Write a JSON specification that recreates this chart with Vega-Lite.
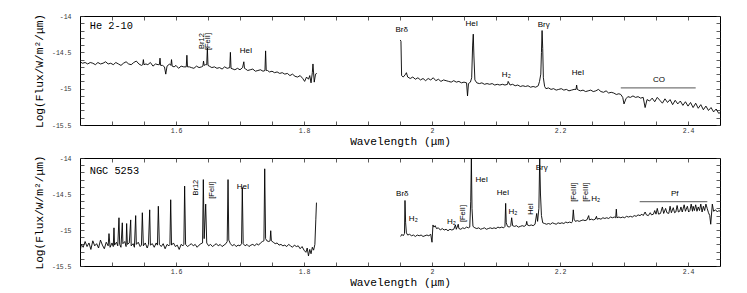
{
"$schema": "https://vega.github.io/schema/vega-lite/v6.json",
"padding": {"left": 32, "top": 12, "right": 20, "bottom": 0},
"spacing": 6,
"config": {"view": {"stroke": "black", "strokeWidth": 1}, "text": {"font": "Liberation Sans"}},
"datasets": {
"he": [
{"seg":1,"w":1.450,"f":-14.63},{"seg":1,"w":1.454,"f":-14.65},{"seg":1,"w":1.458,"f":-14.64},{"seg":1,"w":1.462,"f":-14.66},{"seg":1,"w":1.466,"f":-14.64},{"seg":1,"w":1.470,"f":-14.65},{"seg":1,"w":1.474,"f":-14.67},{"seg":1,"w":1.478,"f":-14.64},{"seg":1,"w":1.482,"f":-14.66},{"seg":1,"w":1.486,"f":-14.65},{"seg":1,"w":1.490,"f":-14.63},{"seg":1,"w":1.494,"f":-14.66},{"seg":1,"w":1.498,"f":-14.65},{"seg":1,"w":1.502,"f":-14.67},{"seg":1,"w":1.506,"f":-14.64},{"seg":1,"w":1.510,"f":-14.66},{"seg":1,"w":1.514,"f":-14.68},{"seg":1,"w":1.518,"f":-14.65},{"seg":1,"w":1.522,"f":-14.63},{"seg":1,"w":1.526,"f":-14.66},{"seg":1,"w":1.530,"f":-14.67},{"seg":1,"w":1.534,"f":-14.64},{"seg":1,"w":1.538,"f":-14.62},{"seg":1,"w":1.542,"f":-14.66},{"seg":1,"w":1.546,"f":-14.68},{"seg":1,"w":1.548,"f":-14.67},{"seg":1,"w":1.549,"f":-14.60},{"seg":1,"w":1.550,"f":-14.67},{"seg":1,"w":1.553,"f":-14.66},{"seg":1,"w":1.556,"f":-14.67},{"seg":1,"w":1.560,"f":-14.64},{"seg":1,"w":1.564,"f":-14.69},{"seg":1,"w":1.568,"f":-14.66},{"seg":1,"w":1.572,"f":-14.67},{"seg":1,"w":1.574,"f":-14.67},{"seg":1,"w":1.575,"f":-14.58},{"seg":1,"w":1.576,"f":-14.68},{"seg":1,"w":1.579,"f":-14.68},{"seg":1,"w":1.582,"f":-14.70},{"seg":1,"w":1.584,"f":-14.80},{"seg":1,"w":1.586,"f":-14.69},{"seg":1,"w":1.590,"f":-14.66},{"seg":1,"w":1.592,"f":-14.68},{"seg":1,"w":1.593,"f":-14.60},{"seg":1,"w":1.594,"f":-14.69},{"seg":1,"w":1.597,"f":-14.70},{"seg":1,"w":1.600,"f":-14.68},{"seg":1,"w":1.604,"f":-14.72},{"seg":1,"w":1.608,"f":-14.69},{"seg":1,"w":1.612,"f":-14.70},{"seg":1,"w":1.616,"f":-14.70},{"seg":1,"w":1.617,"f":-14.54},{"seg":1,"w":1.618,"f":-14.70},{"seg":1,"w":1.621,"f":-14.70},{"seg":1,"w":1.624,"f":-14.71},{"seg":1,"w":1.628,"f":-14.72},{"seg":1,"w":1.632,"f":-14.69},{"seg":1,"w":1.636,"f":-14.71},{"seg":1,"w":1.640,"f":-14.70},{"seg":1,"w":1.642,"f":-14.69},{"seg":1,"w":1.643,"f":-14.62},{"seg":1,"w":1.644,"f":-14.68},{"seg":1,"w":1.646,"f":-14.67},{"seg":1,"w":1.648,"f":-14.67},{"seg":1,"w":1.649,"f":-14.44},{"seg":1,"w":1.650,"f":-14.68},{"seg":1,"w":1.652,"f":-14.69},{"seg":1,"w":1.656,"f":-14.71},{"seg":1,"w":1.660,"f":-14.70},{"seg":1,"w":1.664,"f":-14.72},{"seg":1,"w":1.668,"f":-14.71},{"seg":1,"w":1.672,"f":-14.73},{"seg":1,"w":1.676,"f":-14.70},{"seg":1,"w":1.680,"f":-14.72},{"seg":1,"w":1.684,"f":-14.71},{"seg":1,"w":1.685,"f":-14.50},{"seg":1,"w":1.686,"f":-14.72},{"seg":1,"w":1.689,"f":-14.73},{"seg":1,"w":1.692,"f":-14.74},{"seg":1,"w":1.696,"f":-14.72},{"seg":1,"w":1.700,"f":-14.74},{"seg":1,"w":1.704,"f":-14.71},{"seg":1,"w":1.706,"f":-14.63},{"seg":1,"w":1.707,"f":-14.72},{"seg":1,"w":1.709,"f":-14.73},{"seg":1,"w":1.712,"f":-14.75},{"seg":1,"w":1.716,"f":-14.74},{"seg":1,"w":1.720,"f":-14.73},{"seg":1,"w":1.724,"f":-14.76},{"seg":1,"w":1.728,"f":-14.75},{"seg":1,"w":1.732,"f":-14.74},{"seg":1,"w":1.736,"f":-14.76},{"seg":1,"w":1.739,"f":-14.75},{"seg":1,"w":1.740,"f":-14.48},{"seg":1,"w":1.741,"f":-14.75},{"seg":1,"w":1.743,"f":-14.75},{"seg":1,"w":1.746,"f":-14.77},{"seg":1,"w":1.750,"f":-14.76},{"seg":1,"w":1.754,"f":-14.78},{"seg":1,"w":1.758,"f":-14.77},{"seg":1,"w":1.762,"f":-14.79},{"seg":1,"w":1.766,"f":-14.78},{"seg":1,"w":1.770,"f":-14.80},{"seg":1,"w":1.774,"f":-14.79},{"seg":1,"w":1.778,"f":-14.82},{"seg":1,"w":1.782,"f":-14.80},{"seg":1,"w":1.786,"f":-14.83},{"seg":1,"w":1.790,"f":-14.84},{"seg":1,"w":1.794,"f":-14.82},{"seg":1,"w":1.798,"f":-14.86},{"seg":1,"w":1.801,"f":-14.90},{"seg":1,"w":1.804,"f":-14.84},{"seg":1,"w":1.807,"f":-14.87},{"seg":1,"w":1.809,"f":-14.82},{"seg":1,"w":1.811,"f":-14.92},{"seg":1,"w":1.813,"f":-14.78},{"seg":1,"w":1.814,"f":-14.66},{"seg":1,"w":1.816,"f":-14.91},{"seg":1,"w":1.818,"f":-14.80},{"seg":1,"w":1.820,"f":-14.79},
{"seg":2,"w":1.9505,"f":-14.33},{"seg":2,"w":1.9515,"f":-14.35},{"seg":2,"w":1.9525,"f":-14.82},{"seg":2,"w":1.955,"f":-14.84},{"seg":2,"w":1.958,"f":-14.81},{"seg":2,"w":1.960,"f":-14.78},{"seg":2,"w":1.962,"f":-14.84},{"seg":2,"w":1.966,"f":-14.86},{"seg":2,"w":1.970,"f":-14.84},{"seg":2,"w":1.974,"f":-14.87},{"seg":2,"w":1.978,"f":-14.85},{"seg":2,"w":1.982,"f":-14.88},{"seg":2,"w":1.986,"f":-14.86},{"seg":2,"w":1.990,"f":-14.89},{"seg":2,"w":1.994,"f":-14.86},{"seg":2,"w":1.998,"f":-14.88},{"seg":2,"w":2.002,"f":-14.85},{"seg":2,"w":2.006,"f":-14.89},{"seg":2,"w":2.010,"f":-14.87},{"seg":2,"w":2.014,"f":-14.90},{"seg":2,"w":2.018,"f":-14.88},{"seg":2,"w":2.022,"f":-14.89},{"seg":2,"w":2.026,"f":-14.90},{"seg":2,"w":2.030,"f":-14.91},{"seg":2,"w":2.034,"f":-14.89},{"seg":2,"w":2.038,"f":-14.91},{"seg":2,"w":2.042,"f":-14.90},{"seg":2,"w":2.046,"f":-14.92},{"seg":2,"w":2.050,"f":-14.91},{"seg":2,"w":2.054,"f":-14.92},{"seg":2,"w":2.0555,"f":-15.10},{"seg":2,"w":2.057,"f":-14.93},{"seg":2,"w":2.060,"f":-14.91},{"seg":2,"w":2.062,"f":-14.85},{"seg":2,"w":2.0635,"f":-14.40},{"seg":2,"w":2.0645,"f":-14.25},{"seg":2,"w":2.0655,"f":-14.55},{"seg":2,"w":2.067,"f":-14.88},{"seg":2,"w":2.070,"f":-14.92},{"seg":2,"w":2.074,"f":-14.93},{"seg":2,"w":2.078,"f":-14.92},{"seg":2,"w":2.082,"f":-14.94},{"seg":2,"w":2.086,"f":-14.93},{"seg":2,"w":2.090,"f":-14.94},{"seg":2,"w":2.094,"f":-14.93},{"seg":2,"w":2.098,"f":-14.95},{"seg":2,"w":2.102,"f":-14.94},{"seg":2,"w":2.106,"f":-14.95},{"seg":2,"w":2.110,"f":-14.94},{"seg":2,"w":2.114,"f":-14.95},{"seg":2,"w":2.118,"f":-14.94},{"seg":2,"w":2.119,"f":-14.90},{"seg":2,"w":2.122,"f":-14.95},{"seg":2,"w":2.126,"f":-14.94},{"seg":2,"w":2.130,"f":-14.96},{"seg":2,"w":2.134,"f":-14.95},{"seg":2,"w":2.138,"f":-14.97},{"seg":2,"w":2.142,"f":-14.96},{"seg":2,"w":2.146,"f":-14.97},{"seg":2,"w":2.150,"f":-14.96},{"seg":2,"w":2.154,"f":-14.98},{"seg":2,"w":2.158,"f":-14.97},{"seg":2,"w":2.162,"f":-14.98},{"seg":2,"w":2.166,"f":-14.96},{"seg":2,"w":2.168,"f":-14.90},{"seg":2,"w":2.170,"f":-14.80},{"seg":2,"w":2.171,"f":-14.50},{"seg":2,"w":2.172,"f":-14.20},{"seg":2,"w":2.173,"f":-14.45},{"seg":2,"w":2.174,"f":-14.85},{"seg":2,"w":2.176,"f":-14.97},{"seg":2,"w":2.178,"f":-15.00},{"seg":2,"w":2.182,"f":-14.99},{"seg":2,"w":2.186,"f":-15.01},{"seg":2,"w":2.190,"f":-15.00},{"seg":2,"w":2.194,"f":-15.02},{"seg":2,"w":2.198,"f":-15.01},{"seg":2,"w":2.202,"f":-15.00},{"seg":2,"w":2.206,"f":-15.02},{"seg":2,"w":2.210,"f":-15.01},{"seg":2,"w":2.214,"f":-15.03},{"seg":2,"w":2.218,"f":-15.02},{"seg":2,"w":2.222,"f":-15.01},{"seg":2,"w":2.225,"f":-15.01},{"seg":2,"w":2.226,"f":-14.95},{"seg":2,"w":2.227,"f":-15.01},{"seg":2,"w":2.229,"f":-15.02},{"seg":2,"w":2.232,"f":-15.03},{"seg":2,"w":2.236,"f":-15.02},{"seg":2,"w":2.240,"f":-15.04},{"seg":2,"w":2.244,"f":-15.03},{"seg":2,"w":2.248,"f":-15.02},{"seg":2,"w":2.252,"f":-15.04},{"seg":2,"w":2.256,"f":-15.03},{"seg":2,"w":2.260,"f":-15.01},{"seg":2,"w":2.264,"f":-15.04},{"seg":2,"w":2.268,"f":-15.05},{"seg":2,"w":2.272,"f":-15.03},{"seg":2,"w":2.276,"f":-15.06},{"seg":2,"w":2.280,"f":-15.05},{"seg":2,"w":2.284,"f":-15.06},{"seg":2,"w":2.288,"f":-15.08},{"seg":2,"w":2.292,"f":-15.07},{"seg":2,"w":2.295,"f":-15.08},{"seg":2,"w":2.298,"f":-15.12},{"seg":2,"w":2.300,"f":-15.21},{"seg":2,"w":2.303,"f":-15.14},{"seg":2,"w":2.306,"f":-15.11},{"seg":2,"w":2.310,"f":-15.12},{"seg":2,"w":2.314,"f":-15.10},{"seg":2,"w":2.318,"f":-15.12},{"seg":2,"w":2.322,"f":-15.11},{"seg":2,"w":2.326,"f":-15.13},{"seg":2,"w":2.330,"f":-15.12},{"seg":2,"w":2.333,"f":-15.26},{"seg":2,"w":2.336,"f":-15.15},{"seg":2,"w":2.340,"f":-15.17},{"seg":2,"w":2.344,"f":-15.13},{"seg":2,"w":2.348,"f":-15.18},{"seg":2,"w":2.352,"f":-15.12},{"seg":2,"w":2.356,"f":-15.16},{"seg":2,"w":2.360,"f":-15.20},{"seg":2,"w":2.364,"f":-15.14},{"seg":2,"w":2.368,"f":-15.19},{"seg":2,"w":2.372,"f":-15.15},{"seg":2,"w":2.376,"f":-15.22},{"seg":2,"w":2.380,"f":-15.16},{"seg":2,"w":2.384,"f":-15.21},{"seg":2,"w":2.388,"f":-15.17},{"seg":2,"w":2.392,"f":-15.23},{"seg":2,"w":2.396,"f":-15.18},{"seg":2,"w":2.400,"f":-15.24},{"seg":2,"w":2.404,"f":-15.19},{"seg":2,"w":2.408,"f":-15.26},{"seg":2,"w":2.412,"f":-15.20},{"seg":2,"w":2.416,"f":-15.27},{"seg":2,"w":2.420,"f":-15.22},{"seg":2,"w":2.424,"f":-15.29},{"seg":2,"w":2.428,"f":-15.24},{"seg":2,"w":2.432,"f":-15.30},{"seg":2,"w":2.436,"f":-15.26},{"seg":2,"w":2.440,"f":-15.32},{"seg":2,"w":2.444,"f":-15.28},{"seg":2,"w":2.448,"f":-15.34},{"seg":2,"w":2.450,"f":-15.33}
],
"ngc": [
{"seg":1,"w":1.450,"f":-15.31},{"seg":1,"w":1.452,"f":-15.20},{"seg":1,"w":1.455,"f":-15.24},{"seg":1,"w":1.458,"f":-15.16},{"seg":1,"w":1.461,"f":-15.23},{"seg":1,"w":1.464,"f":-15.18},{"seg":1,"w":1.467,"f":-15.27},{"seg":1,"w":1.470,"f":-15.15},{"seg":1,"w":1.473,"f":-15.22},{"seg":1,"w":1.476,"f":-15.19},{"seg":1,"w":1.479,"f":-15.25},{"seg":1,"w":1.482,"f":-15.14},{"seg":1,"w":1.485,"f":-15.21},{"seg":1,"w":1.488,"f":-15.26},{"seg":1,"w":1.491,"f":-15.17},{"seg":1,"w":1.494,"f":-15.22},{"seg":1,"w":1.4953,"f":-15.05},{"seg":1,"w":1.497,"f":-15.24},{"seg":1,"w":1.500,"f":-15.18},{"seg":1,"w":1.502,"f":-15.23},{"seg":1,"w":1.5031,"f":-14.97},{"seg":1,"w":1.504,"f":-15.21},{"seg":1,"w":1.507,"f":-15.17},{"seg":1,"w":1.509,"f":-15.22},{"seg":1,"w":1.5109,"f":-14.83},{"seg":1,"w":1.512,"f":-15.20},{"seg":1,"w":1.514,"f":-15.24},{"seg":1,"w":1.5161,"f":-14.90},{"seg":1,"w":1.517,"f":-15.19},{"seg":1,"w":1.520,"f":-15.16},{"seg":1,"w":1.522,"f":-15.23},{"seg":1,"w":1.5229,"f":-14.91},{"seg":1,"w":1.524,"f":-15.20},{"seg":1,"w":1.527,"f":-15.18},{"seg":1,"w":1.5292,"f":-14.86},{"seg":1,"w":1.530,"f":-15.22},{"seg":1,"w":1.533,"f":-15.19},{"seg":1,"w":1.535,"f":-15.24},{"seg":1,"w":1.537,"f":-14.80},{"seg":1,"w":1.538,"f":-15.20},{"seg":1,"w":1.541,"f":-15.17},{"seg":1,"w":1.544,"f":-15.23},{"seg":1,"w":1.546,"f":-15.21},{"seg":1,"w":1.5474,"f":-14.76},{"seg":1,"w":1.549,"f":-15.22},{"seg":1,"w":1.552,"f":-15.18},{"seg":1,"w":1.555,"f":-15.25},{"seg":1,"w":1.557,"f":-15.20},{"seg":1,"w":1.5589,"f":-14.72},{"seg":1,"w":1.560,"f":-15.21},{"seg":1,"w":1.563,"f":-15.19},{"seg":1,"w":1.566,"f":-15.24},{"seg":1,"w":1.569,"f":-15.18},{"seg":1,"w":1.571,"f":-15.21},{"seg":1,"w":1.5724,"f":-14.67},{"seg":1,"w":1.574,"f":-15.20},{"seg":1,"w":1.577,"f":-15.23},{"seg":1,"w":1.580,"f":-15.19},{"seg":1,"w":1.583,"f":-15.26},{"seg":1,"w":1.586,"f":-15.20},{"seg":1,"w":1.589,"f":-15.22},{"seg":1,"w":1.5905,"f":-15.20},{"seg":1,"w":1.5917,"f":-14.58},{"seg":1,"w":1.593,"f":-15.21},{"seg":1,"w":1.596,"f":-15.18},{"seg":1,"w":1.599,"f":-15.23},{"seg":1,"w":1.602,"f":-15.21},{"seg":1,"w":1.605,"f":-15.27},{"seg":1,"w":1.608,"f":-15.20},{"seg":1,"w":1.611,"f":-15.22},{"seg":1,"w":1.6123,"f":-15.20},{"seg":1,"w":1.6135,"f":-14.39},{"seg":1,"w":1.615,"f":-15.20},{"seg":1,"w":1.618,"f":-15.23},{"seg":1,"w":1.621,"f":-15.21},{"seg":1,"w":1.624,"f":-15.19},{"seg":1,"w":1.627,"f":-15.22},{"seg":1,"w":1.630,"f":-15.20},{"seg":1,"w":1.633,"f":-15.24},{"seg":1,"w":1.636,"f":-15.21},{"seg":1,"w":1.639,"f":-15.19},{"seg":1,"w":1.6415,"f":-15.18},{"seg":1,"w":1.6427,"f":-14.30},{"seg":1,"w":1.6440,"f":-15.12},{"seg":1,"w":1.6464,"f":-14.64},{"seg":1,"w":1.648,"f":-15.18},{"seg":1,"w":1.651,"f":-15.22},{"seg":1,"w":1.654,"f":-15.20},{"seg":1,"w":1.657,"f":-15.23},{"seg":1,"w":1.660,"f":-15.21},{"seg":1,"w":1.663,"f":-15.19},{"seg":1,"w":1.666,"f":-15.22},{"seg":1,"w":1.669,"f":-15.20},{"seg":1,"w":1.672,"f":-15.23},{"seg":1,"w":1.675,"f":-15.21},{"seg":1,"w":1.678,"f":-15.19},{"seg":1,"w":1.680,"f":-15.16},{"seg":1,"w":1.6813,"f":-14.30},{"seg":1,"w":1.6825,"f":-15.14},{"seg":1,"w":1.685,"f":-15.19},{"seg":1,"w":1.688,"f":-15.22},{"seg":1,"w":1.691,"f":-15.20},{"seg":1,"w":1.694,"f":-15.23},{"seg":1,"w":1.697,"f":-15.21},{"seg":1,"w":1.700,"f":-15.22},{"seg":1,"w":1.7024,"f":-15.19},{"seg":1,"w":1.7036,"f":-14.41},{"seg":1,"w":1.705,"f":-15.19},{"seg":1,"w":1.708,"f":-15.22},{"seg":1,"w":1.711,"f":-15.20},{"seg":1,"w":1.714,"f":-15.23},{"seg":1,"w":1.717,"f":-15.21},{"seg":1,"w":1.720,"f":-15.20},{"seg":1,"w":1.723,"f":-15.22},{"seg":1,"w":1.726,"f":-15.19},{"seg":1,"w":1.729,"f":-15.21},{"seg":1,"w":1.732,"f":-15.18},{"seg":1,"w":1.735,"f":-15.16},{"seg":1,"w":1.7374,"f":-15.15},{"seg":1,"w":1.7386,"f":-14.15},{"seg":1,"w":1.7400,"f":-15.12},{"seg":1,"w":1.742,"f":-15.15},{"seg":1,"w":1.745,"f":-15.16},{"seg":1,"w":1.747,"f":-15.15},{"seg":1,"w":1.748,"f":-15.01},{"seg":1,"w":1.749,"f":-15.15},{"seg":1,"w":1.752,"f":-15.17},{"seg":1,"w":1.755,"f":-15.19},{"seg":1,"w":1.758,"f":-15.18},{"seg":1,"w":1.761,"f":-15.21},{"seg":1,"w":1.764,"f":-15.20},{"seg":1,"w":1.767,"f":-15.22},{"seg":1,"w":1.770,"f":-15.21},{"seg":1,"w":1.773,"f":-15.23},{"seg":1,"w":1.776,"f":-15.20},{"seg":1,"w":1.779,"f":-15.22},{"seg":1,"w":1.782,"f":-15.24},{"seg":1,"w":1.785,"f":-15.21},{"seg":1,"w":1.788,"f":-15.23},{"seg":1,"w":1.791,"f":-15.22},{"seg":1,"w":1.794,"f":-15.26},{"seg":1,"w":1.797,"f":-15.23},{"seg":1,"w":1.800,"f":-15.28},{"seg":1,"w":1.803,"f":-15.31},{"seg":1,"w":1.805,"f":-15.25},{"seg":1,"w":1.807,"f":-15.36},{"seg":1,"w":1.809,"f":-15.27},{"seg":1,"w":1.811,"f":-15.33},{"seg":1,"w":1.813,"f":-15.24},{"seg":1,"w":1.815,"f":-15.28},{"seg":1,"w":1.817,"f":-15.20},{"seg":1,"w":1.8185,"f":-14.85},{"seg":1,"w":1.8195,"f":-14.62},
{"seg":2,"w":1.951,"f":-15.09},{"seg":2,"w":1.953,"f":-15.06},{"seg":2,"w":1.955,"f":-15.08},{"seg":2,"w":1.957,"f":-15.05},{"seg":2,"w":1.9578,"f":-14.59},{"seg":2,"w":1.9588,"f":-14.90},{"seg":2,"w":1.960,"f":-15.04},{"seg":2,"w":1.962,"f":-15.07},{"seg":2,"w":1.965,"f":-15.06},{"seg":2,"w":1.968,"f":-15.08},{"seg":2,"w":1.971,"f":-15.07},{"seg":2,"w":1.974,"f":-15.09},{"seg":2,"w":1.977,"f":-15.07},{"seg":2,"w":1.980,"f":-15.08},{"seg":2,"w":1.983,"f":-15.07},{"seg":2,"w":1.986,"f":-15.09},{"seg":2,"w":1.989,"f":-15.08},{"seg":2,"w":1.992,"f":-15.07},{"seg":2,"w":1.995,"f":-15.08},{"seg":2,"w":1.998,"f":-15.06},{"seg":2,"w":2.000,"f":-15.17},{"seg":2,"w":2.0015,"f":-14.93},{"seg":2,"w":2.003,"f":-14.96},{"seg":2,"w":2.005,"f":-14.94},{"seg":2,"w":2.007,"f":-14.98},{"seg":2,"w":2.010,"f":-14.97},{"seg":2,"w":2.013,"f":-15.00},{"seg":2,"w":2.016,"f":-14.98},{"seg":2,"w":2.019,"f":-15.00},{"seg":2,"w":2.022,"f":-14.99},{"seg":2,"w":2.025,"f":-15.01},{"seg":2,"w":2.028,"f":-14.99},{"seg":2,"w":2.031,"f":-15.00},{"seg":2,"w":2.034,"f":-14.99},{"seg":2,"w":2.0365,"f":-14.93},{"seg":2,"w":2.038,"f":-14.99},{"seg":2,"w":2.041,"f":-14.92},{"seg":2,"w":2.042,"f":-14.98},{"seg":2,"w":2.045,"f":-14.99},{"seg":2,"w":2.048,"f":-14.97},{"seg":2,"w":2.051,"f":-14.98},{"seg":2,"w":2.054,"f":-14.96},{"seg":2,"w":2.057,"f":-14.97},{"seg":2,"w":2.059,"f":-14.96},{"seg":2,"w":2.0605,"f":-14.60},{"seg":2,"w":2.0615,"f":-14.00},{"seg":2,"w":2.0625,"f":-14.70},{"seg":2,"w":2.064,"f":-14.95},{"seg":2,"w":2.067,"f":-14.97},{"seg":2,"w":2.070,"f":-14.98},{"seg":2,"w":2.073,"f":-14.97},{"seg":2,"w":2.076,"f":-14.99},{"seg":2,"w":2.079,"f":-14.98},{"seg":2,"w":2.082,"f":-14.97},{"seg":2,"w":2.085,"f":-14.99},{"seg":2,"w":2.088,"f":-14.98},{"seg":2,"w":2.091,"f":-14.97},{"seg":2,"w":2.094,"f":-14.98},{"seg":2,"w":2.097,"f":-14.97},{"seg":2,"w":2.100,"f":-14.98},{"seg":2,"w":2.103,"f":-14.96},{"seg":2,"w":2.106,"f":-14.97},{"seg":2,"w":2.109,"f":-14.96},{"seg":2,"w":2.112,"f":-14.97},{"seg":2,"w":2.114,"f":-14.95},{"seg":2,"w":2.1151,"f":-14.63},{"seg":2,"w":2.116,"f":-14.90},{"seg":2,"w":2.118,"f":-14.95},{"seg":2,"w":2.121,"f":-14.96},{"seg":2,"w":2.123,"f":-14.94},{"seg":2,"w":2.1245,"f":-14.83},{"seg":2,"w":2.126,"f":-14.94},{"seg":2,"w":2.129,"f":-14.95},{"seg":2,"w":2.132,"f":-14.94},{"seg":2,"w":2.135,"f":-14.96},{"seg":2,"w":2.138,"f":-14.95},{"seg":2,"w":2.141,"f":-14.94},{"seg":2,"w":2.144,"f":-14.95},{"seg":2,"w":2.147,"f":-14.93},{"seg":2,"w":2.148,"f":-14.88},{"seg":2,"w":2.149,"f":-14.93},{"seg":2,"w":2.152,"f":-14.94},{"seg":2,"w":2.155,"f":-14.93},{"seg":2,"w":2.158,"f":-14.94},{"seg":2,"w":2.161,"f":-14.92},{"seg":2,"w":2.1636,"f":-14.77},{"seg":2,"w":2.165,"f":-14.88},{"seg":2,"w":2.167,"f":-14.70},{"seg":2,"w":2.1683,"f":-14.00},{"seg":2,"w":2.1695,"f":-14.50},{"seg":2,"w":2.171,"f":-14.80},{"seg":2,"w":2.173,"f":-14.90},{"seg":2,"w":2.176,"f":-14.91},{"seg":2,"w":2.179,"f":-14.92},{"seg":2,"w":2.182,"f":-14.91},{"seg":2,"w":2.185,"f":-14.92},{"seg":2,"w":2.188,"f":-14.90},{"seg":2,"w":2.191,"f":-14.91},{"seg":2,"w":2.194,"f":-14.92},{"seg":2,"w":2.197,"f":-14.90},{"seg":2,"w":2.200,"f":-14.91},{"seg":2,"w":2.203,"f":-14.90},{"seg":2,"w":2.206,"f":-14.91},{"seg":2,"w":2.209,"f":-14.89},{"seg":2,"w":2.212,"f":-14.90},{"seg":2,"w":2.215,"f":-14.89},{"seg":2,"w":2.218,"f":-14.90},{"seg":2,"w":2.2195,"f":-14.88},{"seg":2,"w":2.2208,"f":-14.72},{"seg":2,"w":2.222,"f":-14.85},{"seg":2,"w":2.224,"f":-14.88},{"seg":2,"w":2.227,"f":-14.87},{"seg":2,"w":2.230,"f":-14.88},{"seg":2,"w":2.233,"f":-14.87},{"seg":2,"w":2.236,"f":-14.86},{"seg":2,"w":2.239,"f":-14.87},{"seg":2,"w":2.242,"f":-14.86},{"seg":2,"w":2.2448,"f":-14.80},{"seg":2,"w":2.246,"f":-14.86},{"seg":2,"w":2.249,"f":-14.85},{"seg":2,"w":2.252,"f":-14.86},{"seg":2,"w":2.255,"f":-14.85},{"seg":2,"w":2.257,"f":-14.81},{"seg":2,"w":2.258,"f":-14.85},{"seg":2,"w":2.261,"f":-14.84},{"seg":2,"w":2.264,"f":-14.85},{"seg":2,"w":2.267,"f":-14.83},{"seg":2,"w":2.270,"f":-14.84},{"seg":2,"w":2.273,"f":-14.83},{"seg":2,"w":2.276,"f":-14.84},{"seg":2,"w":2.279,"f":-14.82},{"seg":2,"w":2.282,"f":-14.83},{"seg":2,"w":2.285,"f":-14.82},{"seg":2,"w":2.287,"f":-14.83},{"seg":2,"w":2.288,"f":-14.71},{"seg":2,"w":2.289,"f":-14.83},{"seg":2,"w":2.292,"f":-14.82},{"seg":2,"w":2.295,"f":-14.83},{"seg":2,"w":2.298,"f":-14.82},{"seg":2,"w":2.301,"f":-14.83},{"seg":2,"w":2.304,"f":-14.81},{"seg":2,"w":2.307,"f":-14.82},{"seg":2,"w":2.310,"f":-14.81},{"seg":2,"w":2.313,"f":-14.82},{"seg":2,"w":2.316,"f":-14.80},{"seg":2,"w":2.319,"f":-14.81},{"seg":2,"w":2.322,"f":-14.79},{"seg":2,"w":2.325,"f":-14.80},{"seg":2,"w":2.328,"f":-14.78},{"seg":2,"w":2.330,"f":-14.80},{"seg":2,"w":2.333,"f":-14.75},{"seg":2,"w":2.335,"f":-14.79},{"seg":2,"w":2.338,"f":-14.80},{"seg":2,"w":2.341,"f":-14.76},{"seg":2,"w":2.343,"f":-14.79},{"seg":2,"w":2.346,"f":-14.78},{"seg":2,"w":2.348,"f":-14.73},{"seg":2,"w":2.350,"f":-14.78},{"seg":2,"w":2.352,"f":-14.70},{"seg":2,"w":2.354,"f":-14.78},{"seg":2,"w":2.357,"f":-14.77},{"seg":2,"w":2.360,"f":-14.68},{"seg":2,"w":2.362,"f":-14.77},{"seg":2,"w":2.365,"f":-14.70},{"seg":2,"w":2.367,"f":-14.76},{"seg":2,"w":2.370,"f":-14.77},{"seg":2,"w":2.372,"f":-14.67},{"seg":2,"w":2.374,"f":-14.76},{"seg":2,"w":2.377,"f":-14.69},{"seg":2,"w":2.379,"f":-14.76},{"seg":2,"w":2.381,"f":-14.75},{"seg":2,"w":2.383,"f":-14.66},{"seg":2,"w":2.385,"f":-14.75},{"seg":2,"w":2.387,"f":-14.74},{"seg":2,"w":2.389,"f":-14.68},{"seg":2,"w":2.391,"f":-14.75},{"seg":2,"w":2.394,"f":-14.65},{"seg":2,"w":2.396,"f":-14.74},{"seg":2,"w":2.399,"f":-14.67},{"seg":2,"w":2.401,"f":-14.75},{"seg":2,"w":2.403,"f":-14.73},{"seg":2,"w":2.405,"f":-14.64},{"seg":2,"w":2.407,"f":-14.74},{"seg":2,"w":2.408,"f":-14.67},{"seg":2,"w":2.410,"f":-14.73},{"seg":2,"w":2.412,"f":-14.65},{"seg":2,"w":2.414,"f":-14.74},{"seg":2,"w":2.416,"f":-14.68},{"seg":2,"w":2.418,"f":-14.73},{"seg":2,"w":2.420,"f":-14.64},{"seg":2,"w":2.422,"f":-14.75},{"seg":2,"w":2.424,"f":-14.67},{"seg":2,"w":2.426,"f":-14.73},{"seg":2,"w":2.428,"f":-14.64},{"seg":2,"w":2.430,"f":-14.70},{"seg":2,"w":2.432,"f":-14.76},{"seg":2,"w":2.434,"f":-14.80},{"seg":2,"w":2.4355,"f":-14.92},{"seg":2,"w":2.437,"f":-14.75},{"seg":2,"w":2.438,"f":-14.64},{"seg":2,"w":2.440,"f":-14.74},{"seg":2,"w":2.443,"f":-14.72},{"seg":2,"w":2.446,"f":-14.75},{"seg":2,"w":2.448,"f":-14.73},{"seg":2,"w":2.450,"f":-14.74}
]
},
"vconcat": [
{
"width": 640, "height": 109,
"resolve": {"axis": {"x": "independent", "y": "independent"}},
"layer": [
{"data": {"name": "he"},
 "mark": {"type": "line", "color": "black", "strokeWidth": 0.9, "clip": true},
 "encoding": {
  "x": {"field": "w", "type": "quantitative", "scale": {"domain": [1.45, 2.45], "nice": false, "zero": false},
   "axis": {"orient": "bottom", "values": [1.5,1.55,1.6,1.65,1.7,1.75,1.8,1.85,1.9,1.95,2,2.05,2.1,2.15,2.2,2.25,2.3,2.35,2.4], "domain": false, "grid": false, "tickSize": -4, "tickColor": "#333", "tickWidth": 0.8, "labelExpr": "abs(datum.value*5-round(datum.value*5))<0.01 ? toString(round(datum.value*10)/10) : ''", "labelFont": "Liberation Mono", "labelFontSize": 6.5, "labelColor": "#333", "labelPadding": 6, "labelOverlap": false, "labelFlush": false, "title": "Wavelength (μm)", "titleFont": "Liberation Mono", "titleFontSize": 11.2, "titleFontWeight": "normal", "titleColor": "black", "titlePadding": 2}},
  "y": {"field": "f", "type": "quantitative", "scale": {"domain": [-15.5, -14], "nice": false, "zero": false},
   "axis": {"orient": "left", "values": [-15.5,-15.4,-15.3,-15.2,-15.1,-15,-14.9,-14.8,-14.7,-14.6,-14.5,-14.4,-14.3,-14.2,-14.1,-14], "domain": false, "grid": false, "tickSize": -4, "tickColor": "#333", "tickWidth": 0.8, "labelExpr": "abs(datum.value*2-round(datum.value*2))<0.01 ? toString(round(datum.value*10)/10) : ''", "labelFont": "Liberation Mono", "labelFontSize": 6.5, "labelColor": "#333", "labelPadding": 13, "labelOverlap": false, "labelFlush": false, "title": "Log(Flux/W/m²/μm)", "titleFont": "Liberation Mono", "titleFontSize": 11.2, "titleFontWeight": "normal", "titleColor": "black", "titlePadding": 7}},
  "detail": {"field": "seg"}
 }},
{"data": {"values": [
  {"w": 1.7094, "f": -14.477, "t": "HeI"},
  {"w": 1.9526, "f": -14.188, "t": "Brδ"},
  {"w": 2.062, "f": -14.106, "t": "HeI"},
  {"w": 2.1161, "f": -14.812, "t": "H₂"},
  {"w": 2.1745, "f": -14.119, "t": "Brγ"},
  {"w": 2.2281, "f": -14.780, "t": "HeI"},
  {"w": 2.3547, "f": -14.885, "t": "CO"}
 ]},
 "mark": {"type": "text", "font": "Liberation Sans", "fontSize": 8, "color": "black", "align": "center", "baseline": "middle"},
 "encoding": {
  "x": {"field": "w", "type": "quantitative", "axis": {"orient": "top", "values": [1.5,1.55,1.6,1.65,1.7,1.75,1.8,1.85,1.9,1.95,2,2.05,2.1,2.15,2.2,2.25,2.3,2.35,2.4], "domain": false, "grid": false, "labels": false, "title": null, "tickSize": -4, "tickColor": "#333", "tickWidth": 0.8}},
  "y": {"field": "f", "type": "quantitative", "axis": {"orient": "right", "values": [-15.5,-15.4,-15.3,-15.2,-15.1,-15,-14.9,-14.8,-14.7,-14.6,-14.5,-14.4,-14.3,-14.2,-14.1,-14], "domain": false, "grid": false, "labels": false, "title": null, "tickSize": -4, "tickColor": "#333", "tickWidth": 0.8}},
  "text": {"field": "t"}
 }},
{"data": {"values": [
  {"w": 1.6414, "f": -14.344, "t": "Br12"},
  {"w": 1.6500, "f": -14.351, "t": "[FeII]"}
 ]},
 "mark": {"type": "text", "font": "Liberation Sans", "fontSize": 7.5, "color": "black", "align": "center", "baseline": "middle", "angle": 270},
 "encoding": {
  "x": {"field": "w", "type": "quantitative", "axis": null},
  "y": {"field": "f", "type": "quantitative", "axis": null},
  "text": {"field": "t"}
 }},
{"data": {"values": [{"w": 1.4652, "f": -14.14, "t": "He 2-10"}]},
 "mark": {"type": "text", "font": "Liberation Mono", "fontSize": 10.3, "color": "black", "align": "left", "baseline": "middle"},
 "encoding": {
  "x": {"field": "w", "type": "quantitative", "axis": null},
  "y": {"field": "f", "type": "quantitative", "axis": null},
  "text": {"field": "t"}
 }},
{"data": {"values": [{"w": 2.295, "w2": 2.412, "f": -14.99}]},
 "mark": {"type": "rule", "color": "#777", "strokeWidth": 1.3},
 "encoding": {
  "x": {"field": "w", "type": "quantitative", "axis": null},
  "x2": {"field": "w2"},
  "y": {"field": "f", "type": "quantitative", "axis": null}
 }}
]
},
{
"width": 640, "height": 108,
"resolve": {"axis": {"x": "independent", "y": "independent"}},
"layer": [
{"data": {"name": "ngc"},
 "mark": {"type": "line", "color": "black", "strokeWidth": 0.9, "clip": true},
 "encoding": {
  "x": {"field": "w", "type": "quantitative", "scale": {"domain": [1.45, 2.45], "nice": false, "zero": false},
   "axis": {"orient": "bottom", "values": [1.5,1.55,1.6,1.65,1.7,1.75,1.8,1.85,1.9,1.95,2,2.05,2.1,2.15,2.2,2.25,2.3,2.35,2.4], "domain": false, "grid": false, "tickSize": -4, "tickColor": "#333", "tickWidth": 0.8, "labelExpr": "abs(datum.value*5-round(datum.value*5))<0.01 ? toString(round(datum.value*10)/10) : ''", "labelFont": "Liberation Mono", "labelFontSize": 6.5, "labelColor": "#333", "labelPadding": 6, "labelOverlap": false, "labelFlush": false, "title": "Wavelength (μm)", "titleFont": "Liberation Mono", "titleFontSize": 11.2, "titleFontWeight": "normal", "titleColor": "black", "titlePadding": 2}},
  "y": {"field": "f", "type": "quantitative", "scale": {"domain": [-15.5, -14], "nice": false, "zero": false},
   "axis": {"orient": "left", "values": [-15.5,-15.4,-15.3,-15.2,-15.1,-15,-14.9,-14.8,-14.7,-14.6,-14.5,-14.4,-14.3,-14.2,-14.1,-14], "domain": false, "grid": false, "tickSize": -4, "tickColor": "#333", "tickWidth": 0.8, "labelExpr": "abs(datum.value*2-round(datum.value*2))<0.01 ? toString(round(datum.value*10)/10) : ''", "labelFont": "Liberation Mono", "labelFontSize": 6.5, "labelColor": "#333", "labelPadding": 13, "labelOverlap": false, "labelFlush": false, "title": "Log(Flux/W/m²/μm)", "titleFont": "Liberation Mono", "titleFontSize": 11.2, "titleFontWeight": "normal", "titleColor": "black", "titlePadding": 7}},
  "detail": {"field": "seg"}
 }},
{"data": {"values": [
  {"w": 1.7047, "f": -14.407, "t": "HeI"},
  {"w": 1.9536, "f": -14.495, "t": "Brδ"},
  {"w": 1.9708, "f": -14.843, "t": "H₂"},
  {"w": 2.0302, "f": -14.894, "t": "H₂"},
  {"w": 2.0776, "f": -14.310, "t": "HeI"},
  {"w": 2.1109, "f": -14.481, "t": "HeI"},
  {"w": 2.1266, "f": -14.750, "t": "H₂"},
  {"w": 2.1714, "f": -14.144, "t": "Brγ"},
  {"w": 2.2557, "f": -14.574, "t": "H₂"},
  {"w": 2.3792, "f": -14.495, "t": "Pf"}
 ]},
 "mark": {"type": "text", "font": "Liberation Sans", "fontSize": 8, "color": "black", "align": "center", "baseline": "middle"},
 "encoding": {
  "x": {"field": "w", "type": "quantitative", "axis": {"orient": "top", "values": [1.5,1.55,1.6,1.65,1.7,1.75,1.8,1.85,1.9,1.95,2,2.05,2.1,2.15,2.2,2.25,2.3,2.35,2.4], "domain": false, "grid": false, "labels": false, "title": null, "tickSize": -4, "tickColor": "#333", "tickWidth": 0.8}},
  "y": {"field": "f", "type": "quantitative", "axis": {"orient": "right", "values": [-15.5,-15.4,-15.3,-15.2,-15.1,-15,-14.9,-14.8,-14.7,-14.6,-14.5,-14.4,-14.3,-14.2,-14.1,-14], "domain": false, "grid": false, "labels": false, "title": null, "tickSize": -4, "tickColor": "#333", "tickWidth": 0.8}},
  "text": {"field": "t"}
 }},
{"data": {"values": [
  {"w": 1.6310, "f": -14.412, "t": "Br12"},
  {"w": 1.6570, "f": -14.447, "t": "[FeII]"},
  {"w": 2.0492, "f": -14.771, "t": "[FeII]"},
  {"w": 2.1544, "f": -14.708, "t": "HeI"},
  {"w": 2.2222, "f": -14.475, "t": "[FeIII]"},
  {"w": 2.2403, "f": -14.475, "t": "[FeIII]"}
 ]},
 "mark": {"type": "text", "font": "Liberation Sans", "fontSize": 7.5, "color": "black", "align": "center", "baseline": "middle", "angle": 270},
 "encoding": {
  "x": {"field": "w", "type": "quantitative", "axis": null},
  "y": {"field": "f", "type": "quantitative", "axis": null},
  "text": {"field": "t"}
 }},
{"data": {"values": [{"w": 1.4652, "f": -14.181, "t": "NGC 5253"}]},
 "mark": {"type": "text", "font": "Liberation Mono", "fontSize": 10.3, "color": "black", "align": "left", "baseline": "middle"},
 "encoding": {
  "x": {"field": "w", "type": "quantitative", "axis": null},
  "y": {"field": "f", "type": "quantitative", "axis": null},
  "text": {"field": "t"}
 }},
{"data": {"values": [{"w": 2.3245, "w2": 2.4302, "f": -14.607}]},
 "mark": {"type": "rule", "color": "#777", "strokeWidth": 1.3},
 "encoding": {
  "x": {"field": "w", "type": "quantitative", "axis": null},
  "x2": {"field": "w2"},
  "y": {"field": "f", "type": "quantitative", "axis": null}
 }}
]
}
]
}
